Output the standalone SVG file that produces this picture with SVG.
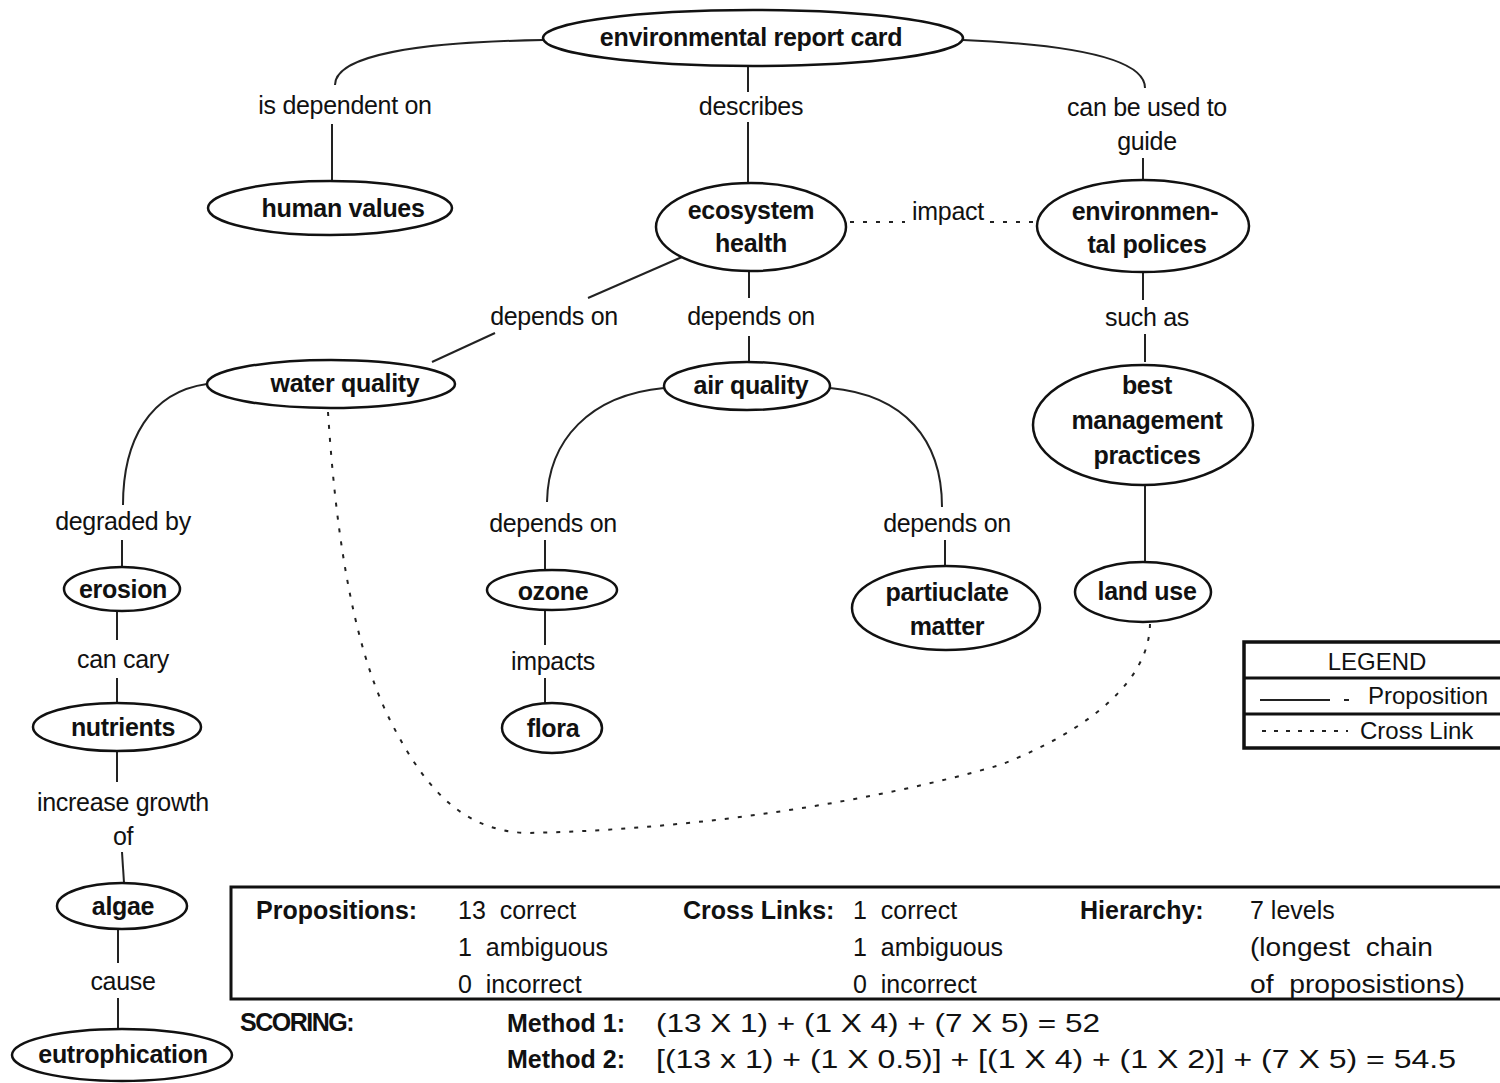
<svg xmlns="http://www.w3.org/2000/svg" width="1500" height="1083" viewBox="0 0 1500 1083">
<style>
.n{fill:#fff;stroke:#111;stroke-width:2.5}
.nt{font-family:"Liberation Sans",Arial,sans-serif;font-weight:bold;font-size:25px;fill:#111;text-anchor:middle;letter-spacing:-0.3px}
.lt{font-family:"Liberation Sans",Arial,sans-serif;font-size:25px;fill:#111;text-anchor:middle;letter-spacing:-0.3px}
.c{fill:none;stroke:#222;stroke-width:2}
.x{fill:none;stroke:#222;stroke-width:2;stroke-dasharray:4,9}
.st{font-family:"Liberation Sans",Arial,sans-serif;font-size:25px;fill:#111;white-space:pre}
.sb{font-family:"Liberation Sans",Arial,sans-serif;font-size:25px;font-weight:bold;fill:#111}
</style>
<rect width="1500" height="1083" fill="#fff"/>
<g id="connectors">
<path class="c" d="M543,40 C420,42 335,55 335,85"/>
<path class="c" d="M332,124 L332,181"/>
<path class="c" d="M748,66 L748,92"/>
<path class="c" d="M748,122 L748,183"/>
<path class="c" d="M963,40 C1080,45 1145,60 1145,88"/>
<path class="c" d="M1143,158 L1143,180"/>
<path class="x" d="M850,222 L905,222"/>
<path class="x" d="M990,222 L1037,222"/>
<path class="c" d="M682,257 L588,298"/>
<path class="c" d="M495,333 L432,362"/>
<path class="c" d="M749,270 L749,298"/>
<path class="c" d="M749,336 L749,362"/>
<path class="c" d="M1143,272 L1143,300"/>
<path class="c" d="M1145,334 L1145,362"/>
<path class="c" d="M207,384 C150,392 123,440 123,505"/>
<path class="c" d="M122,540 L122,567"/>
<path class="c" d="M664,388 C590,395 548,440 547,502"/>
<path class="c" d="M545,540 L545,569"/>
<path class="c" d="M830,388 C905,395 942,440 942,507"/>
<path class="c" d="M945,540 L945,566"/>
<path class="c" d="M1145,480 L1145,563"/>
<path class="c" d="M117,611 L117,640"/>
<path class="c" d="M117,678 L117,703"/>
<path class="c" d="M545,610 L545,645"/>
<path class="c" d="M545,678 L545,703"/>
<path class="c" d="M117,751 L117,782"/>
<path class="c" d="M122,852 L124,883"/>
<path class="c" d="M118,929 L118,963"/>
<path class="c" d="M118,998 L118,1028"/>
<path class="x" d="M328,412 C335,520 350,640 390,720 C430,800 470,830 525,833 C700,830 880,800 1000,765 C1090,730 1150,680 1150,623"/>
</g>
<g id="node-environmental-report-card"><ellipse class="n" cx="753" cy="38" rx="210" ry="28"/><text class="nt" x="751" y="46">environmental report card</text></g>
<g id="node-human-values"><ellipse class="n" cx="330" cy="208" rx="122" ry="27"/><text class="nt" x="343" y="217">human values</text></g>
<g id="node-ecosystem-health"><ellipse class="n" cx="751" cy="227" rx="95" ry="44"/><text class="nt" x="751" y="219">ecosystem</text><text class="nt" x="751" y="252">health</text></g>
<g id="node-environmental-polices"><ellipse class="n" cx="1143" cy="226" rx="106" ry="46"/><text class="nt" x="1145" y="220">environmen-</text><text class="nt" x="1147" y="253">tal polices</text></g>
<g id="node-water-quality"><ellipse class="n" cx="331" cy="384" rx="124" ry="24"/><text class="nt" x="345" y="392">water quality</text></g>
<g id="node-air-quality"><ellipse class="n" cx="747" cy="386" rx="83" ry="24"/><text class="nt" x="751" y="394">air quality</text></g>
<g id="node-best-management-practices"><ellipse class="n" cx="1143" cy="425" rx="110" ry="60"/><text class="nt" x="1147" y="394">best</text><text class="nt" x="1147" y="429">management</text><text class="nt" x="1147" y="464">practices</text></g>
<g id="node-erosion"><ellipse class="n" cx="122" cy="589" rx="58" ry="22"/><text class="nt" x="123" y="598">erosion</text></g>
<g id="node-ozone"><ellipse class="n" cx="552" cy="590" rx="65" ry="20"/><text class="nt" x="553" y="600">ozone</text></g>
<g id="node-particulate-matter"><ellipse class="n" cx="946" cy="608" rx="94" ry="42"/><text class="nt" x="947" y="601">partiuclate</text><text class="nt" x="947" y="635">matter</text></g>
<g id="node-land-use"><ellipse class="n" cx="1143" cy="592" rx="68" ry="30"/><text class="nt" x="1147" y="600">land use</text></g>
<g id="node-nutrients"><ellipse class="n" cx="117" cy="727" rx="84" ry="24"/><text class="nt" x="123" y="736">nutrients</text></g>
<g id="node-flora"><ellipse class="n" cx="552" cy="728" rx="50" ry="25"/><text class="nt" x="553" y="737">flora</text></g>
<g id="node-algae"><ellipse class="n" cx="122" cy="906" rx="65" ry="23"/><text class="nt" x="123" y="915">algae</text></g>
<g id="node-eutrophication"><ellipse class="n" cx="122" cy="1055" rx="110" ry="26"/><text class="nt" x="123" y="1063">eutrophication</text></g>
<g id="link-labels">
<text class="lt" x="345" y="114">is dependent on</text>
<text class="lt" x="751" y="115">describes</text>
<text class="lt" x="1147" y="116">can be used to</text>
<text class="lt" x="1147" y="150">guide</text>
<text class="lt" x="948" y="220">impact</text>
<text class="lt" x="554" y="325">depends on</text>
<text class="lt" x="751" y="325">depends on</text>
<text class="lt" x="1147" y="326">such as</text>
<text class="lt" x="123" y="530">degraded by</text>
<text class="lt" x="553" y="532">depends on</text>
<text class="lt" x="947" y="532">depends on</text>
<text class="lt" x="123" y="668">can cary</text>
<text class="lt" x="553" y="670">impacts</text>
<text class="lt" x="123" y="811">increase growth</text>
<text class="lt" x="123" y="845">of</text>
<text class="lt" x="123" y="990">cause</text>
</g>
<g id="legend">
<rect x="1244" y="642" width="260" height="106" fill="#fff" stroke="#111" stroke-width="3.5"/>
<line x1="1244" y1="678" x2="1500" y2="678" stroke="#111" stroke-width="3"/>
<line x1="1244" y1="714" x2="1500" y2="714" stroke="#111" stroke-width="3"/>
<text class="st" x="1377" y="670" text-anchor="middle" style="font-size:24px">LEGEND</text>
<line x1="1260" y1="700" x2="1330" y2="700" stroke="#222" stroke-width="2"/>
<line x1="1344" y1="700" x2="1349" y2="700" stroke="#222" stroke-width="2"/>
<text class="st" x="1368" y="704" style="font-size:24px">Proposition</text>
<line x1="1262" y1="731" x2="1348" y2="731" stroke="#222" stroke-width="2" stroke-dasharray="4,8"/>
<text class="st" x="1360" y="739" style="font-size:24px">Cross Link</text>
</g>
<g id="scoring">
<rect x="231" y="887" width="1280" height="112" fill="none" stroke="#111" stroke-width="3"/>
<text class="sb" x="256" y="919">Propositions:</text>
<text class="st" x="458" y="919" xml:space="preserve">13  correct</text>
<text class="st" x="458" y="956" xml:space="preserve">1  ambiguous</text>
<text class="st" x="458" y="993" xml:space="preserve">0  incorrect</text>
<text class="sb" x="683" y="919">Cross Links:</text>
<text class="st" x="853" y="919" xml:space="preserve">1  correct</text>
<text class="st" x="853" y="956" xml:space="preserve">1  ambiguous</text>
<text class="st" x="853" y="993" xml:space="preserve">0  incorrect</text>
<text class="sb" x="1080" y="919">Hierarchy:</text>
<text class="st" x="1250" y="919">7 levels</text>
<text class="st" x="1250" y="956" xml:space="preserve" textLength="183" lengthAdjust="spacingAndGlyphs">(longest  chain</text>
<text class="st" x="1250" y="993" xml:space="preserve" textLength="215" lengthAdjust="spacingAndGlyphs">of  proposistions)</text>
<text class="sb" x="240" y="1031" style="letter-spacing:-1.5px">SCORING:</text>
<text class="sb" x="507" y="1032">Method 1:</text>
<text class="st" x="656" y="1032" textLength="444" lengthAdjust="spacingAndGlyphs">(13 X 1) + (1 X 4) + (7 X 5) = 52</text>
<text class="sb" x="507" y="1068">Method 2:</text>
<text class="st" x="656" y="1068" textLength="800" lengthAdjust="spacingAndGlyphs">[(13 x 1) + (1 X 0.5)] + [(1 X 4) + (1 X 2)] + (7 X 5) = 54.5</text>
</g>
</svg>
